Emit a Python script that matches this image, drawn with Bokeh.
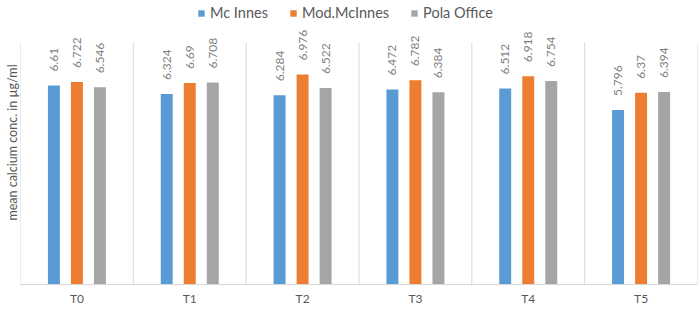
from bokeh.plotting import figure
from bokeh.models import ColumnDataSource, FactorRange, Range1d, Legend, LegendItem, FixedTicker
from bokeh.transform import dodge
from bokeh.core.properties import value
from bokeh.embed import file_html
from bokeh.resources import INLINE
import math

categories = ["T0", "T1", "T2", "T3", "T4", "T5"]
mc_innes = [6.61, 6.324, 6.284, 6.472, 6.512, 5.796]
mod_mcinnes = [6.722, 6.69, 6.976, 6.782, 6.918, 6.37]
pola_office = [6.546, 6.708, 6.522, 6.384, 6.754, 6.394]
series_names = ["Mc Innes", "Mod.McInnes", "Pola Office"]
colors = ["#5B9BD5", "#ED7D31", "#A5A5A5"]

FONT = "Lato"
TXT = "#595959"
PLOT_TOP = 8.03     # top of the original plot area (value units)
Y_END = 9.43        # extra headroom for labels/legend

src = ColumnDataSource(dict(
    cat=categories,
    a=mc_innes, b=mod_mcinnes, c=pola_office,
    la=[f"{v:g}" for v in mc_innes],
    lb=[f"{v:g}" for v in mod_mcinnes],
    lc=[f"{v:g}" for v in pola_office],
))

p = figure(width=699, height=309, x_range=FactorRange(*categories, range_padding=0),
           y_range=Range1d(0, Y_END), output_backend="svg", toolbar_location=None,
           min_border_left=20, min_border_right=2, min_border_top=0, min_border_bottom=25)
p.outline_line_color = None
p.background_fill_color = "white"
p.border_fill_color = "white"
p.xgrid.grid_line_color = None
p.ygrid.grid_line_color = None

# y axis: only the title
p.yaxis.ticker = FixedTicker(ticks=[])
p.yaxis.axis_line_color = None
p.yaxis.major_tick_line_color = None
p.yaxis.minor_tick_line_color = None
p.yaxis.major_tick_out = 0
p.yaxis.major_tick_in = 0
p.yaxis.axis_label = "mean calcium conc. in µg/ml"
p.yaxis.axis_label_text_font = FONT
p.yaxis.axis_label_text_font_style = "normal"
p.yaxis.axis_label_text_font_size = "12.5px"
p.yaxis.axis_label_text_color = TXT
p.yaxis.axis_label_standoff = 1

p.xaxis.axis_line_color = "#D9D9D9"
p.xaxis.major_tick_line_color = None
p.xaxis.minor_tick_line_color = None
p.xaxis.major_tick_out = 0
p.xaxis.major_tick_in = 0
p.xaxis.major_label_text_font = FONT
p.xaxis.major_label_text_font_size = "12px"
p.xaxis.major_label_text_color = TXT
p.xaxis.major_label_standoff = 6

# category separators
bounds = list(range(len(categories) + 1))
p.segment(x0=bounds, x1=bounds, y0=[0] * len(bounds), y1=[PLOT_TOP] * len(bounds),
          line_color="#D9D9D9", line_width=1)

offsets = [-0.204, 0.0, 0.204]
cols = ["a", "b", "c"]
labs = ["la", "lb", "lc"]
items = []
for off, col, lab, color, name in zip(offsets, cols, labs, colors, series_names):
    r = p.vbar(x=dodge("cat", off, range=p.x_range), top=col, width=0.106, bottom=0,
               source=src, fill_color=color, line_color=None)
    p.text(x=dodge("cat", off, range=p.x_range), y=col, text=lab, source=src,
           angle=math.pi / 2, text_align="left", text_baseline="middle",
           x_offset=0, y_offset=-14, text_font=value(FONT), text_font_size="12px",
           text_color="#7F7F7F")
    items.append(LegendItem(label=name, renderers=[r]))

legend = Legend(items=items, orientation="horizontal", location=(177, 263),
                label_text_font=FONT, label_text_font_size="14.5px", label_text_color=TXT,
                glyph_width=8, glyph_height=8, spacing=21, label_standoff=5,
                border_line_color=None, background_fill_alpha=0, padding=4, margin=0)
p.add_layout(legend, "center")

open("out.html", "w").write(file_html(p, INLINE))
